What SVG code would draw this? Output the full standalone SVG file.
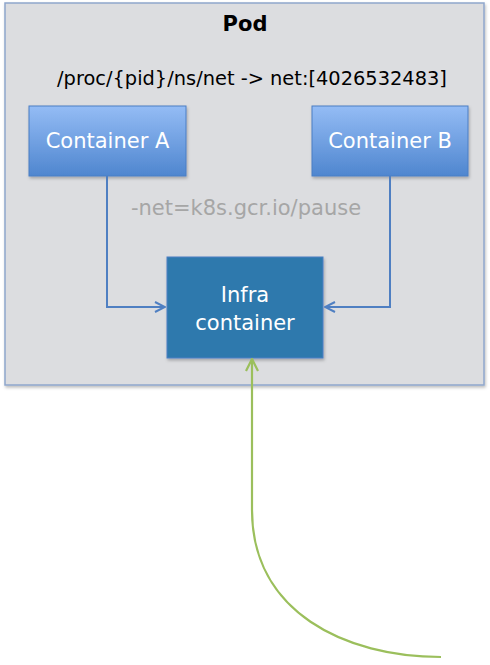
<svg xmlns="http://www.w3.org/2000/svg" width="490" height="665" viewBox="0 0 490 665">
<defs>
<linearGradient id="blueGrad" x1="0" y1="0" x2="0" y2="1">
<stop offset="0" stop-color="#94bcf5"/>
<stop offset="1" stop-color="#4f86cf"/>
</linearGradient>
<filter id="shadow" x="-10%" y="-10%" width="130%" height="130%">
<feDropShadow dx="1" dy="2" stdDeviation="1.5" flood-color="#000" flood-opacity="0.25"/>
</filter>
<marker id="arrBlue" viewBox="0 0 12 12" refX="11" refY="6" markerWidth="12" markerHeight="12" markerUnits="userSpaceOnUse" orient="auto">
<path d="M1,1 L11,6 L1,11" fill="none" stroke="#4f7fc2" stroke-width="2"/>
</marker>
<marker id="arrGreen" viewBox="0 0 14 14" refX="13" refY="7" markerWidth="14" markerHeight="14" markerUnits="userSpaceOnUse" orient="auto">
<path d="M1,1 L13,7 L1,13" fill="none" stroke="#9bbf5c" stroke-width="2.2"/>
</marker>
</defs>
<style>
.lbl{font-family:"DejaVu Sans","Liberation Sans",sans-serif;}
.white{fill:#ffffff;font-size:21px;}
.blue-line{fill:none;stroke:#4f7fc2;stroke-width:2;}
</style>
<rect width="490" height="665" fill="#ffffff"/>
<g id="pod">
<rect x="5" y="3" width="479" height="382" fill="#dcdde0" stroke="#8fa6cc" stroke-width="1.5" filter="url(#shadow)"/>
<text class="lbl" x="245" y="31" text-anchor="middle" font-size="21" font-weight="bold" fill="#000">Pod</text>
<text class="lbl" x="252" y="85" text-anchor="middle" font-size="19.4" fill="#000">/proc/{pid}/ns/net -&gt; net:[4026532483]</text>
<text class="lbl" x="246" y="215" text-anchor="middle" font-size="21" fill="#a6a6a6">-net=k8s.gcr.io/pause</text>
</g>
<g id="containerA">
<rect x="29" y="106" width="157" height="70" fill="url(#blueGrad)" stroke="#4a7fc4" stroke-width="1" filter="url(#shadow)"/>
<text class="lbl white" x="107.5" y="148" text-anchor="middle">Container A</text>
</g>
<g id="containerB">
<rect x="312" y="106" width="156" height="70" fill="url(#blueGrad)" stroke="#4a7fc4" stroke-width="1" filter="url(#shadow)"/>
<text class="lbl white" x="390" y="148" text-anchor="middle">Container B</text>
</g>
<g id="infra">
<rect x="167" y="257" width="156" height="101" fill="#2f79ad" stroke="#4a7fc4" stroke-width="1" filter="url(#shadow)"/>
<text class="lbl white" x="245" y="302" text-anchor="middle">Infra</text>
<text class="lbl white" x="245" y="330" text-anchor="middle">container</text>
</g>
<g id="connectors">
<path class="blue-line" d="M107,176 V307 H165" marker-end="url(#arrBlue)"/>
<path class="blue-line" d="M390,176 V307 H325" marker-end="url(#arrBlue)"/>
<path d="M441,657 C345,657 252,612 252,510 V359" fill="none" stroke="#9bbf5c" stroke-width="2.2" marker-end="url(#arrGreen)"/>
</g>
</svg>
